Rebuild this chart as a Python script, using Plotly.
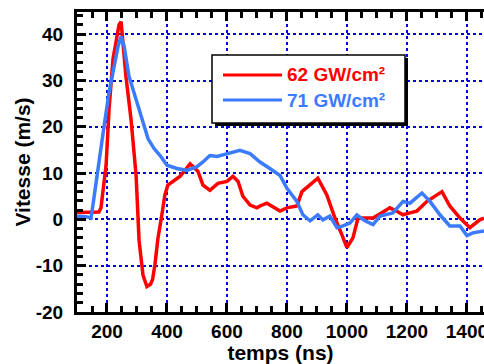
import plotly.graph_objects as go

# ---- data ----
t_red = [100, 130, 173, 180, 197, 207, 220, 240, 247, 263, 280, 297, 307, 320, 333, 345,
         352, 360, 370, 383, 393, 403, 420, 443, 460, 477, 490, 503, 520, 543, 570, 600,
         620, 637, 653, 677, 700, 710, 733, 755, 777, 800, 833, 850, 877, 903, 933, 960,
         983, 1000, 1020, 1037, 1060, 1087, 1115, 1143, 1165, 1187, 1210, 1233, 1267,
         1295, 1317, 1343, 1377, 1410, 1443, 1457]
v_red = [1.5, 1.5, 1.6, 2.5, 11.7, 24, 34.6, 42, 42.7, 31, 21.7, 9.5, -4.6, -12, -14.5, -14,
         -13, -9.7, -4, 1, 5.3, 7.4, 8.2, 9.3, 10.6, 12, 11.2, 10.4, 7.4, 6.3, 7.8, 8.2,
         9.3, 8.2, 5, 3.1, 2.5, 2.9, 3.5, 2.6, 1.8, 2.5, 2.9, 6, 7.4, 8.9, 5.3, 0.3,
         -3.3, -6.1, -4, 0.3, 0.3, 0.3, 1.4, 2.5, 1.8, 1, 1.4, 1.8, 3.9,
         5.2, 6, 2.9, 0.3, -1.8, -0.1, 0.3]

t_blue = [100, 130, 147, 157, 173, 190, 207, 223, 237, 247, 257, 273, 297, 320, 337, 357,
          377, 400, 433, 467, 500, 520, 543, 567, 600, 643, 677, 710, 743, 777, 800, 833,
          853, 877, 903, 920, 943, 967, 987, 1010, 1033, 1060, 1087, 1110, 1153, 1187,
          1210, 1250, 1277, 1310, 1343, 1377, 1400, 1420, 1457]
v_blue = [0.7, 0.6, 0.3, 4.6, 11.7, 20, 27.5, 33, 37.4, 39.5, 37.4, 31, 26, 21, 17.4, 15.3,
          13.8, 11.7, 11, 10.6, 11.4, 12.4, 13.8, 13.6, 14.2, 14.9, 14.2, 12.4, 11, 9.5, 6.7, 3.9,
          1, -0.3, 1, -0.1, 0.7, -1.8, -1.4, -0.8, 1, -0.3, -1.1, 0.7, 1.4, 3.9,
          3.5, 5.7, 3.9, 1, -1.4, -1.4, -3.5, -2.9, -2.5]

series_names = ["62 GW/cm²", "71 GW/cm²"]
series_colors = ["#ff0000", "#3a7bff"]

x_tickvals = [200, 400, 600, 800, 1000, 1200, 1400]
x_ticktext = ["200", "400", "600", "800", "1000", "1200", "1400"]
y_tickvals = [-20, -10, 0, 10, 20, 30, 40]
y_ticktext = ["-20", "-10", "0", "10", "20", "30", "40"]

FONT = "Liberation Sans, Arial, sans-serif"

fig = go.Figure()
fig.add_trace(go.Scatter(x=t_red, y=v_red, mode="lines", name=series_names[0],
                         line=dict(color=series_colors[0], width=3.5), showlegend=False))
fig.add_trace(go.Scatter(x=t_blue, y=v_blue, mode="lines", name=series_names[1],
                         line=dict(color=series_colors[1], width=3.5), showlegend=False))

axis_common = dict(
    showline=True, linecolor="black", linewidth=3,
    ticks="inside", ticklen=9, tickwidth=2.5, tickcolor="black",
    showgrid=True, gridcolor="#0000e0", gridwidth=1.5, griddash="dot",
    zeroline=False, automargin=False,
    tickfont=dict(family=FONT, size=19, color="black", weight="bold"),
)

fig.update_xaxes(
    **axis_common, range=[100, 1457], tickmode="array",
    tickvals=x_tickvals, ticktext=x_ticktext, mirror="ticks",
    ticklabeloverflow="allow",
    minor=dict(dtick=50, tick0=0, ticks="inside", ticklen=6, tickwidth=2.5,
               tickcolor="black", showgrid=False),
    title=dict(text="<b>temps (ns)</b>", standoff=0,
               font=dict(family=FONT, size=21, color="black")),
    ticklabelstandoff=0,
)
fig.update_yaxes(
    **axis_common, range=[-20, 44.8], tickmode="array",
    tickvals=y_tickvals, ticktext=y_ticktext, mirror=False,
    minor=dict(dtick=2, tick0=0, ticks="inside", ticklen=6, tickwidth=2.5,
               tickcolor="black", showgrid=False),
    title=dict(text="<b>Vitesse (m/s)</b>", standoff=0,
               font=dict(family=FONT, size=21, color="black")),
    ticklabelstandoff=7,
)

# ---- legend box (drawn manually, with drop shadow) ----
W, Hp = 484 - 77, 300
def px_x(p):
    return (p - 77) / W
def px_y(p):
    return (312 - p) / Hp

fig.add_shape(type="rect", xref="paper", yref="paper",
              x0=px_x(215), x1=px_x(408), y0=px_y(126), y1=px_y(58),
              fillcolor="black", line=dict(width=0), layer="above")
fig.add_shape(type="rect", xref="paper", yref="paper",
              x0=px_x(212), x1=px_x(405), y0=px_y(123), y1=px_y(55),
              fillcolor="white", line=dict(color="black", width=1.5), layer="above")
for i, yy in enumerate([75, 100]):
    fig.add_shape(type="line", xref="paper", yref="paper",
                  x0=px_x(223), x1=px_x(282), y0=px_y(yy), y1=px_y(yy),
                  line=dict(color=series_colors[i], width=3), layer="above")
    fig.add_annotation(xref="paper", yref="paper", x=px_x(285), y=px_y(yy),
                       xanchor="left", yanchor="middle", showarrow=False,
                       text="<b>" + series_names[i] + "</b>",
                       font=dict(family=FONT, size=19, color=series_colors[i]))

fig.update_layout(
    width=484, height=364,
    margin=dict(l=77, r=0, t=12, b=52),
    paper_bgcolor="white", plot_bgcolor="white",
    showlegend=False,
)

fig.write_html("out.html", config={"displayModeBar": False},
               post_script="document.body.style.margin='0';document.body.style.overflow='hidden';")
